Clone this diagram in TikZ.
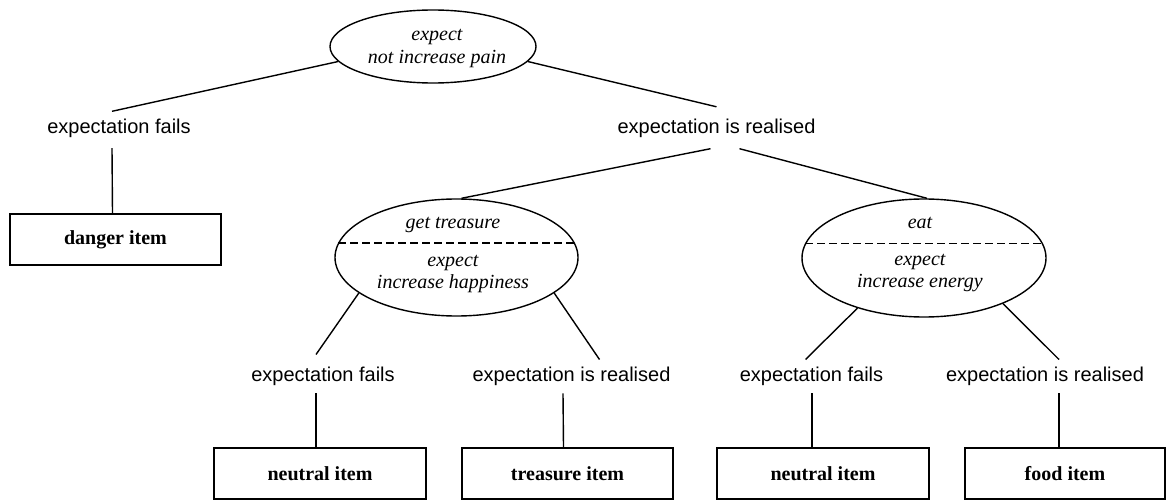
\documentclass[tikz,border=0pt]{standalone}
\usepackage{fontspec}
\setmainfont{Liberation Serif}
\newfontfamily\labelfont{Liberation Sans}
\usetikzlibrary{shapes.geometric,calc}

\tikzset{
  link/.style={line width=1.4pt},
  goal/.style={ellipse, draw, line width=1.4pt, inner sep=0pt},
  goaltext/.style={anchor=base, inner sep=0pt, font=\fontsize{20}{24}\selectfont\itshape},
  outcome/.style={anchor=base, inner xsep=0pt, inner ysep=7pt, text height=15pt, text depth=4.5pt,
    font=\labelfont\fontsize{20}{24}\selectfont},
  itembox/.style={rectangle, draw, line width=1.4pt, inner sep=0pt,
    minimum width=211pt, minimum height=51pt, font=\fontsize{20}{24}\selectfont\bfseries},
  split/.style={line width=1.4pt, dash pattern=on 8pt off 4pt}
}

\begin{document}
\begin{tikzpicture}[x=1pt, y=-1pt]
  \useasboundingbox (0,0) rectangle (1167,500);

  % root goal
  \node[goal, minimum width=206pt, minimum height=73pt] (e1) at (433,46.5) {};
  \node[goaltext] (e1a) at (437,41) {expect};
  \node[goaltext] (e1b) at (437,63.5) {not increase pain};

  % first level outcomes
  \node[outcome] (l1) at (119,133.5) {expectation fails};
  \node[outcome] (er) at (716.5,134) {expectation is realised};
  \node[itembox] (danger) at (115.5,239.5) {danger item};

  % sub goals
  \node[goal, minimum width=243pt, minimum height=117pt] (e2) at (456.5,257.5) {};
  \node[goaltext] (e2a) at (453,228) {get treasure};
  \node[goaltext] (e2b) at (453,266.5) {expect};
  \node[goaltext] (e2c) at (453,288) {increase happiness};

  \node[goal, minimum width=244pt, minimum height=118pt] (e3) at (924,258) {};
  \node[goaltext] (e3a) at (920,228.5) {eat};
  \node[goaltext] (e3b) at (920,265) {expect};
  \node[goaltext] (e3c) at (920,287) {increase energy};

  \draw[split] (e2.173) -- (e2.7);
  \draw[split] (e3.173) -- (e3.7);

  % second level outcomes
  \node[outcome] (l3) at (323,381.7) {expectation fails};
  \node[outcome] (l4) at (571.5,381.7) {expectation is realised};
  \node[outcome] (l5) at (811.5,381.7) {expectation fails};
  \node[outcome] (l6) at (1045,381.7) {expectation is realised};

  % items
  \node[itembox, minimum width=212pt] (b1) at (320,473.5) {neutral item};
  \node[itembox] (b2) at (567.5,473.5) {treasure item};
  \node[itembox, minimum width=212pt] (b3) at (823,473.5) {neutral item};
  \node[itembox, minimum width=200pt] (b4) at (1065,473.5) {food item};

  % connectors
  \draw[link] (e1.189) -- ($(l1.north)+(-7,0)$);
  \draw[link] (e1.-9) -- ($(er.north)+(0,-5)$);
  \draw[link] ($(danger.north)+(-3,0)$) -- ($(l1.south)+(-7,3)$);

  \draw[link] ($(er.south)+(-6,3)$) -- ($(e2.north)+(5,0)$);
  \draw[link] ($(er.south)+(23,3)$) -- ($(e3.north)+(3,0)$);

  \draw[link] (e2.200) -- ($(l3.north)+(-7,-5)$);
  \draw[link] (e2.-20) -- ($(l4.north)+(28,0)$);
  \draw[link] (e3.217) -- ($(l5.north)+(-6,0)$);
  \draw[link] (e3.-30) -- ($(l6.north)+(14,0)$);

  \draw[link] ($(b1.north)+(-4,0)$) -- ($(l3.south)+(-7,0)$);
  \draw[link] ($(b2.north)+(-4,0)$) -- ($(l4.south)+(-8.5,0)$);
  \draw[link] ($(b3.north)+(-11,0)$) -- ($(l5.south)+(0.5,0)$);
  \draw[link] ($(b4.north)+(-6,0)$) -- ($(l6.south)+(14,0)$);
\end{tikzpicture}
\end{document}
